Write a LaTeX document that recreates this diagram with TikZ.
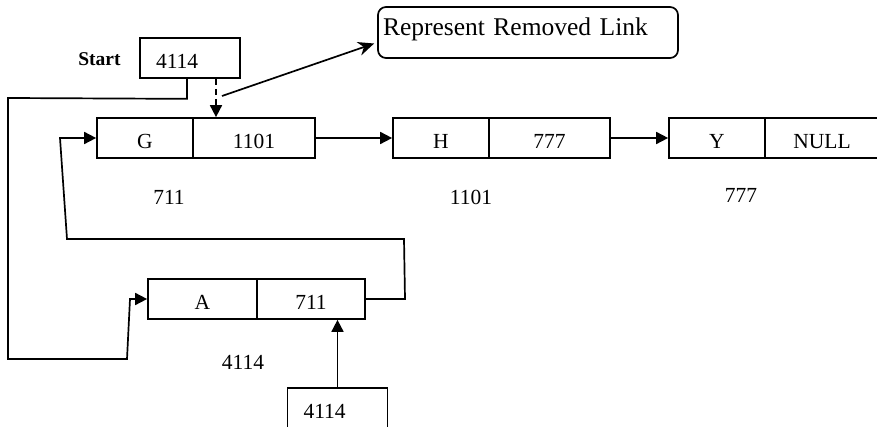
\documentclass[tikz,border=0pt]{standalone}
\usepackage{fontspec}
\setmainfont{Liberation Serif}
\usetikzlibrary{arrows.meta,calc}
\begin{document}
\begin{tikzpicture}[x=1pt,y=-1pt,
  every node/.style={font=\fontsize{21.5}{23}\selectfont, inner sep=0pt},
  cell/.style={draw, line width=1.7pt, minimum height=40pt, text height=21pt, text depth=0pt},
  link/.style={line width=1.7pt, -{Triangle[length=12pt,width=12pt]}},
  wire/.style={line width=1.7pt}]
\useasboundingbox (0,0) rectangle (877,427);
\clip (0,0) rectangle (877,427);

% start pointer
\node[font=\fontsize{19.5}{21}\selectfont\bfseries] (startlbl) at (99.5,59) {Start};
\node[cell, minimum width=100pt, text width=68pt, inner xsep=16pt, align=left] (start) at (190,58) {4114};

% note box
\node[draw, line width=1.7pt, rounded corners=8pt, minimum width=300pt, minimum height=51pt,
      text width=290pt, inner xsep=5pt, align=left, text depth=12pt,
      font=\fontsize{25.5}{27}\selectfont] (removed) at (528,32.5) {Represent Removed Link};

% list records
\node[cell, minimum width=96pt] (Gd) at (145,138) {G};
\node[cell, minimum width=122pt] (Gp) at (254,138) {1101};
\node[cell, minimum width=96pt] (Hd) at (441,138) {H};
\node[cell, minimum width=121pt] (Hp) at (549.5,138) {777};
\node[cell, minimum width=96pt] (Yd) at (717,138) {Y};
\node[cell, minimum width=114pt] (Yp) at (822,138) {NULL};
\node[cell, minimum width=109pt] (Ad) at (202.5,299) {A};
\node[cell, minimum width=108pt] (Ap) at (311,299) {711};

% addresses
\node (aG) at (169,197) {711};
\node (aH) at (471,197) {1101};
\node (aY) at (741,195) {777};
\node (aA) at (243,362) {4114};

% new pointer box
\node[cell, minimum width=100pt, text width=68pt, inner xsep=16pt, align=left] (newp) at (337.5,408) {4114};

% links
\draw[link] (Gp.east) -- (Hd.west);
\draw[link] (Hp.east) -- (Yd.west);
\draw[link] ($(start.south)+(-3,0)$) -- ++(0,20) -- (8,98) -- (8,359) -- (127,359) -- (130,299) -- (Ad.west);
\coordinate (dtop) at ($(start.south)+(26,0)$);
\draw[link, dash pattern=on 6pt off 4pt] (dtop) -- (dtop |- Gp.north);
\coordinate (nfrom) at (222,96);
\draw[wire, -{Stealth[length=16pt,width=14pt]}] (nfrom) -- ($(removed.west)+(-3,11)$);
\draw[link] (Ap.east) -- (405,299) -- (404,239) -- (67,239) -- (60,138) -- (Gd.west);
\draw[link] (newp.north) -- (newp.north |- Ap.south);
\end{tikzpicture}
\end{document}
